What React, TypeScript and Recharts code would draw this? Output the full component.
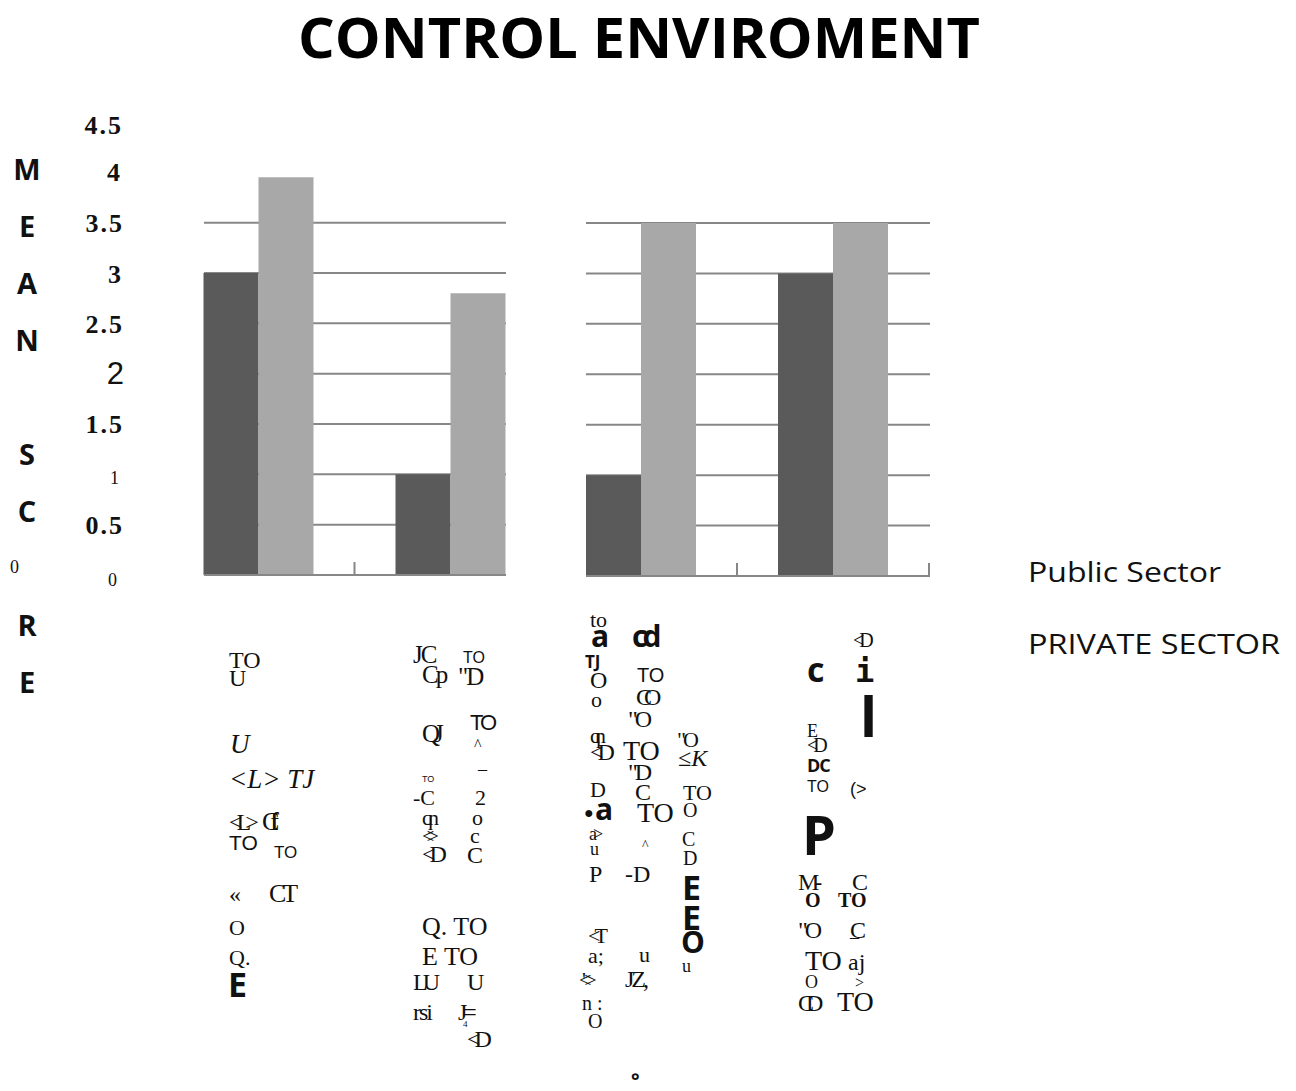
import React from 'react';
import { BarChart, Bar, XAxis, YAxis, CartesianGrid } from 'recharts';

const categories = ['Item 1', 'Item 2', 'Item 3', 'Item 4'];
const publicSector = [3.0, 1.0, 1.0, 3.0];
const privateSector = [3.95, 2.8, 3.5, 3.5];
const seriesNames = ['Public Sector', 'PRIVATE SECTOR'];
const yTicks = [0, 0.5, 1, 1.5, 2, 2.5, 3, 3.5, 4, 4.5];
const yTickLabels = ['0', '0.5', '1', '1.5', '2', '2.5', '3', '3.5', '4', '4.5'];
const gridValues = [0.5, 1, 1.5, 2, 2.5, 3, 3.5];
const title = 'CONTROL ENVIROMENT';
const axisTitle = 'MEAN SC0RE';

const rows = categories.map((name, i) => ({
  name,
  pub: publicSector[i],
  priv: privateSector[i],
}));

const DARK = '#5a5a5a';
const LIGHT = '#a8a8a8';
const GRID = '#878787';
const BAND = 192;

const SERIF = '"Liberation Serif", "Times New Roman", serif';
const SANS = '"Liberation Sans", Arial, sans-serif';
const HEAVY = '"Open Sans", sans-serif';
const MONO = '"DejaVu Sans Mono", monospace';

// look of each y tick label, same order as yTicks
const tickLook = [
  { size: 18, weight: 400, family: SERIF, dx: -4, dy: 5, ls: 0 },
  { size: 26, weight: 700, family: SERIF, dx: 3, dy: 1, ls: 2 },
  { size: 18, weight: 400, family: SERIF, dx: -2, dy: 4, ls: 0 },
  { size: 26, weight: 700, family: SERIF, dx: 3, dy: 0, ls: 2 },
  { size: 31, weight: 400, family: SANS, dx: 3, dy: 0, ls: 0 },
  { size: 26, weight: 700, family: SERIF, dx: 3, dy: 1, ls: 2 },
  { size: 26, weight: 700, family: SERIF, dx: 0, dy: 1, ls: 0 },
  { size: 26, weight: 700, family: SERIF, dx: 3, dy: 1, ls: 2 },
  { size: 26, weight: 700, family: SERIF, dx: -1, dy: 0, ls: 0 },
  { size: 26, weight: 700, family: SERIF, dx: 2, dy: 3, ls: 2 },
];

const YTick = ({ x, y, payload }: any) => {
  const i = yTicks.indexOf(payload.value);
  const s = tickLook[i];
  return (
    <text
      x={x + s.dx}
      y={y + s.dy}
      textAnchor="end"
      dominantBaseline="central"
      fontFamily={s.family}
      fontWeight={s.weight}
      fontSize={s.size}
      letterSpacing={s.ls}
      fill="#111"
    >
      {yTickLabels[i]}
    </text>
  );
};

// small upward marks between categories
const BoundaryTick = ({ x, y, limit }: any) => {
  const bx = x + BAND / 2;
  if (bx > limit) return <g />;
  return <line x1={bx} x2={bx} y1={y} y2={y - 13} stroke={GRID} strokeWidth={2} />;
};

// broken-up category captions under the bars: [text, x, baseline, size, kind, spacing]
type Scrap = [string, number, number, number, string, number?];
const scraps: Scrap[] = [
  ['TO', 229, 668, 24, 'r'],
  ['U', 229, 686, 24, 'r'],
  ['U', 230, 753, 27, 'i'],
  ['<L> TJ', 229, 788, 27, 'i'],
  ['<L>', 229, 830, 24, 'r', -6],
  ['CfI', 262, 830, 26, 'r', -9],
  ['TO', 229, 850, 21, 'a'],
  ['TO', 274, 858, 17, 'a'],
  ['«', 229, 902, 24, 'r'],
  ['CT', 269, 902, 26, 'r', -4],
  ['O', 229, 935, 22, 'r'],
  ['Q.', 229, 965, 22, 'r'],
  ['E', 228, 997, 34, 'A'],

  ['JC', 413, 663, 25, 'r', -2],
  ['Cp', 422, 683, 25, 'r', -3],
  ['TO', 463, 663, 16, 'a'],
  ['"D', 458, 685, 25, 'r', -2],
  ['QJ', 422, 742, 25, 'r', -6],
  ['TO', 470, 730, 22, 'a', -3],
  ['^', 474, 750, 16, 'r'],
  ['TO', 422, 782, 9, 'a'],
  ['-C', 413, 805, 22, 'r'],
  ['¯', 478, 784, 18, 'r'],
  ['2', 475, 805, 22, 'r'],
  ['qn', 422, 825, 22, 'r', -5],
  ['o', 472, 825, 22, 'r'],
  ['<>', 422, 843, 22, 'r', -8],
  ['c', 470, 843, 22, 'r'],
  ['<D', 422, 862, 24, 'r', -6],
  ['C', 467, 863, 24, 'r'],
  ['Q. TO', 422, 935, 26, 'r'],
  ['E TO', 422, 965, 26, 'r'],
  ['LU', 413, 990, 24, 'r', -5],
  ['U', 467, 990, 24, 'r'],
  ['rsi', 413, 1020, 24, 'r', -2],
  ['J=', 458, 1020, 24, 'r', -4],
  ['4', 463, 1027, 9, 'r'],
  ['<D', 467, 1047, 24, 'r', -6],

  ['to', 590, 627, 22, 'r'],
  ['a', 591, 647, 30, 'A'],
  ['cd', 632, 647, 30, 'A', -5],
  ['TJ', 585, 668, 17, 'A'],
  ['O', 590, 688, 24, 'r'],
  ['o', 591, 707, 22, 'r'],
  ['TO', 637, 682, 20, 'a'],
  ['CO', 636, 705, 24, 'r', -8],
  ['"O', 628, 727, 24, 'r', -3],
  ['qn', 590, 743, 22, 'r', -6],
  ['<D', 590, 760, 24, 'r', -6],
  ['TO', 623, 760, 28, 'r'],
  ['"O', 677, 747, 22, 'r', -3],
  ['≤K', 678, 766, 24, 'i'],
  ['"D', 628, 780, 24, 'r', -3],
  ['D', 590, 797, 22, 'r'],
  ['C', 635, 800, 24, 'r'],
  ['TO', 683, 800, 22, 'r'],
  ['●', 584, 818, 16, 'a'],
  ['a', 595, 820, 30, 'A'],
  ['TO', 637, 822, 28, 'r'],
  ['O', 683, 817, 20, 'r'],
  ['a>', 589, 840, 18, 'r', -4],
  ['u', 590, 855, 18, 'r'],
  ['^', 642, 850, 14, 'r'],
  ['C', 682, 846, 20, 'r'],
  ['D', 683, 865, 20, 'r'],
  ['P', 589, 882, 24, 'r'],
  ['-D', 625, 882, 24, 'r'],
  ['E', 682, 900, 34, 'A'],
  ['E', 682, 930, 34, 'A'],
  ['O', 681, 953, 30, 'A'],
  ['u', 682, 972, 18, 'r'],
  ['<T', 588, 943, 22, 'r', -6],
  ['a;', 588, 963, 22, 'r'],
  ['u', 639, 962, 22, 'r'],
  ["'<>", 582, 987, 22, 'r', -7],
  ['JZ,', 625, 987, 24, 'r', -3],
  ['n :', 582, 1010, 20, 'r'],
  ['O', 588, 1028, 20, 'r'],

  ['<D', 853, 647, 20, 'r', -5],
  ['c', 807, 682, 34, 'A'],
  ['i', 855, 682, 32, 'm'],
  ['l', 860, 737, 56, 'A'],
  ['E', 807, 737, 18, 'r'],
  ['<D', 807, 752, 20, 'r', -5],
  ['DC', 807, 772, 18, 'A', -1],
  ['TO', 807, 792, 16, 'a'],
  ['(>', 850, 795, 18, 'a'],
  ['P', 802, 855, 54, 'A'],
  ['M-', 798, 890, 24, 'r', -5],
  ['C', 852, 890, 24, 'r'],
  ['O', 805, 907, 20, 'b'],
  ['TO', 838, 907, 20, 'b'],
  ['"O', 798, 938, 24, 'r', -3],
  ['C', 850, 938, 24, 'r'],
  ['TO', 805, 970, 28, 'r'],
  ['¯', 850, 952, 18, 'r'],
  ['aj', 848, 970, 24, 'r'],
  ['O', 805, 988, 18, 'r'],
  ['>', 855, 988, 16, 'r'],
  ['CD', 798, 1011, 24, 'r', -8],
  ['TO', 837, 1011, 28, 'r'],

  ['°', 631, 1088, 20, 'A'],
];

const kinds: Record<string, { family: string; weight: number; style?: string }> = {
  r: { family: SERIF, weight: 400 },
  i: { family: SERIF, weight: 400, style: 'italic' },
  b: { family: SERIF, weight: 700 },
  a: { family: SANS, weight: 400 },
  A: { family: HEAVY, weight: 700 },
  m: { family: MONO, weight: 700 },
};

export default function App() {
  return (
    <div
      style={{
        position: 'relative',
        width: 1296,
        height: 1091,
        margin: -8,
        background: '#fff',
        overflow: 'hidden',
      }}
    >
      <div style={{ position: 'absolute', left: 0, top: 0 }}>
        <BarChart
          width={520}
          height={600}
          data={rows.slice(0, 2)}
          margin={{ top: 122, right: 14, bottom: 5, left: 0 }}
          barCategoryGap={41}
          barGap={0}
        >
          <CartesianGrid vertical={false} horizontalValues={gridValues} stroke={GRID} strokeWidth={2} />
          <XAxis
            dataKey="name"
            height={20}
            padding={{ left: -41.5, right: -40.5 }}
            axisLine={{ stroke: GRID, strokeWidth: 2 }}
            tickLine={false}
            tickSize={0}
            tickMargin={0}
            interval={0}
            tick={<BoundaryTick limit={507} />}
          />
          <YAxis
            width={204}
            domain={[0, 4.5]}
            ticks={yTicks}
            interval={0}
            axisLine={false}
            tickLine={false}
            tickSize={0}
            tickMargin={83}
            tick={<YTick />}
          />
          <Bar dataKey="pub" name={seriesNames[0]} fill={DARK} isAnimationActive={false} />
          <Bar dataKey="priv" name={seriesNames[1]} fill={LIGHT} isAnimationActive={false} />
        </BarChart>
      </div>

      <div style={{ position: 'absolute', left: 560, top: 0 }}>
        <BarChart
          width={380}
          height={600}
          data={rows.slice(2)}
          margin={{ top: 223, right: 10, bottom: 4, left: 26 }}
          barCategoryGap={41}
          barGap={0}
        >
          <CartesianGrid vertical={false} horizontalValues={gridValues} stroke={GRID} strokeWidth={2} />
          <XAxis
            dataKey="name"
            height={20}
            padding={{ left: -41, right: 1 }}
            axisLine={{ stroke: GRID, strokeWidth: 2 }}
            tickLine={false}
            tickSize={0}
            tickMargin={0}
            interval={0}
            tick={<BoundaryTick limit={931} />}
          />
          <YAxis hide domain={[0, 3.5]} allowDataOverflow />
          <Bar dataKey="pub" name={seriesNames[0]} fill={DARK} isAnimationActive={false} />
          <Bar dataKey="priv" name={seriesNames[1]} fill={LIGHT} isAnimationActive={false} />
        </BarChart>
      </div>

      <svg
        width={1296}
        height={1091}
        style={{ position: 'absolute', left: 0, top: 0, pointerEvents: 'none' }}
      >
        <text
          x={298}
          y={58}
          fontFamily={HEAVY}
          fontWeight={700}
          fontSize={56}
          textLength={682}
          lengthAdjust="spacingAndGlyphs"
          fill="#000"
        >
          {title}
        </text>

        {axisTitle.split('').map((ch, i) =>
          ch === ' ' ? null : ch === '0' ? (
            <text key={i} x={10} y={168 + i * 57} dominantBaseline="central" fontFamily={SERIF} fontSize={18} fill="#111">
              {ch}
            </text>
          ) : (
            <text
              key={i}
              x={27}
              y={168 + i * 57}
              textAnchor="middle"
              dominantBaseline="central"
              fontFamily={HEAVY}
              fontWeight={700}
              fontSize={29}
              fill="#111"
            >
              {ch}
            </text>
          ),
        )}

        <text x={1028} y={582} fontFamily={HEAVY} fontSize={27} textLength={193} lengthAdjust="spacingAndGlyphs" fill="#111">
          {seriesNames[0]}
        </text>
        <text x={1028} y={654} fontFamily={HEAVY} fontSize={27} textLength={252} lengthAdjust="spacingAndGlyphs" fill="#111">
          {seriesNames[1]}
        </text>

        {scraps.map(([t, x, y, size, kind, ls], i) => {
          const k = kinds[kind];
          return (
            <text
              key={i}
              x={x}
              y={y}
              fontFamily={k.family}
              fontWeight={k.weight}
              fontStyle={k.style}
              fontSize={size}
              letterSpacing={ls || 0}
              fill="#111"
            >
              {t}
            </text>
          );
        })}
      </svg>
    </div>
  );
}
